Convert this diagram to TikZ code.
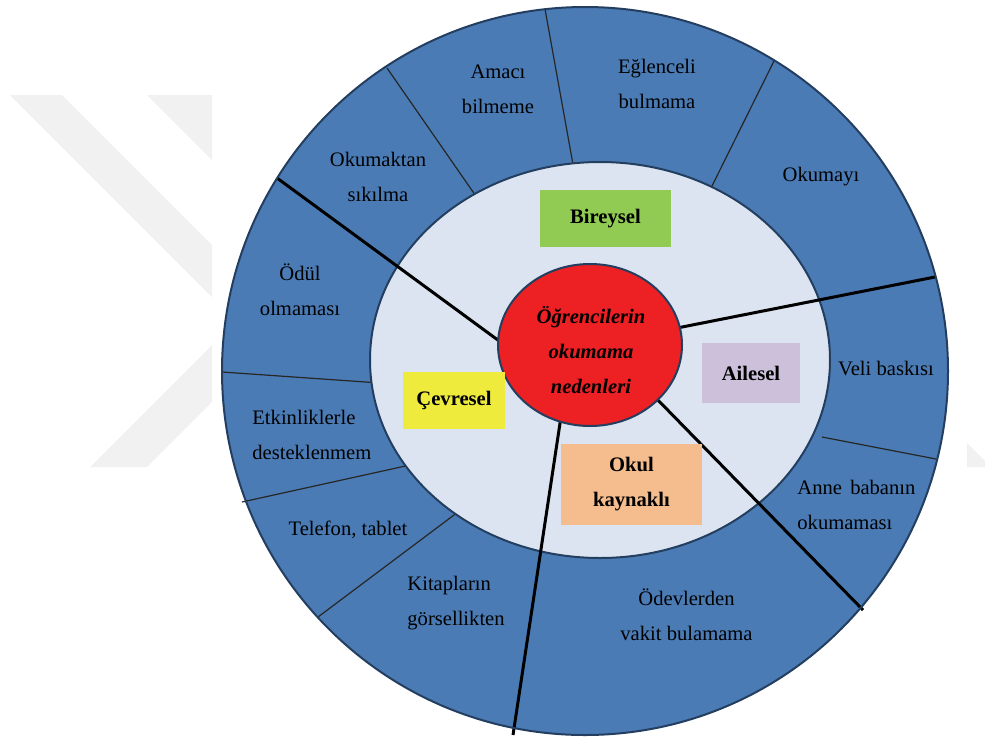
\documentclass[tikz,border=0pt]{standalone}
\usepackage{fontspec}
\setmainfont{Liberation Serif}
\usetikzlibrary{shapes.geometric}
\definecolor{ringblue}{RGB}{74,123,181}
\definecolor{ringedge}{RGB}{35,62,95}
\definecolor{innerfill}{RGB}{219,228,240}
\definecolor{corered}{RGB}{237,32,36}
\definecolor{boxgreen}{RGB}{146,203,84}
\definecolor{boxlilac}{RGB}{204,192,218}
\definecolor{boxyellow}{RGB}{238,235,60}
\definecolor{boxpeach}{RGB}{245,188,142}
\definecolor{wmgray}{RGB}{241,241,241}

\begin{document}
\begin{tikzpicture}[x=0.5pt, y=-0.5pt,
    lbl/.style={font=\fontsize{10.3}{17.5}\selectfont, align=center, inner sep=0pt},
    catbox/.style={font=\fontsize{10.3}{17.5}\selectfont\bfseries, align=center, inner sep=0pt},
    thinsep/.style={line width=0.6pt, black!85},
    thicksep/.style={line width=1.5pt, black}]
    % Canvas
    \useasboundingbox (0,0) rectangle (985,740);

    % Watermark
    \fill[wmgray] (10,95) -- (62,95) -- (212,245) -- (212,297) -- cycle;
    \fill[wmgray] (147,95) -- (212,95) -- (212,160) -- cycle;
    \fill[wmgray] (90,467) -- (147,467) -- (212,402) -- (212,345) -- cycle;
    \fill[wmgray] (967,443) -- (985,461) -- (985,467) -- (967,467) -- cycle;

    % Outer ring
    \fill[ringblue] (585,371) ellipse [x radius=363, y radius=364];

    % Thin separators
    \draw[thinsep] (387,68) -- (480,202);
    \draw[thinsep] (545,9) -- (574,170);
    \draw[thinsep] (774,61) -- (710,190);
    \draw[thinsep] (222,372) -- (380,383);
    \draw[thinsep] (242,502) -- (410,465);
    \draw[thinsep] (318,617) -- (458,512);
    \draw[thinsep] (822,437) -- (936,459);

    % Middle ring
    \filldraw[fill=innerfill, draw=ringedge, line width=1pt] (600,360) ellipse [x radius=230, y radius=198];

    % Thick separators
    \draw[thicksep] (506,346) -- (277,178);
    \draw[thicksep] (672,329) -- (935,277);
    \draw[thicksep] (653,395) -- (863,610);
    \draw[thicksep] (562,410) -- (513,735);

    % Outer border
    \draw[ringedge, line width=1pt] (585,371) ellipse [x radius=363, y radius=364];

    % Core
    \node[ellipse, fill=corered, draw=ringedge, line width=1pt, minimum width=92pt, minimum height=81pt, inner sep=0pt] (core) at (590,345) {};
    \node[lbl, font=\fontsize{10.3}{17.5}\selectfont\bfseries\itshape] (coretext) at (591,350) {Öğrencilerin\\okumama\\nedenleri};

    % Categories
    \node[catbox, fill=boxgreen, minimum width=65.5pt, minimum height=28.5pt] (bireysel) at (605.5,218.5) {Bireysel};
    \node[catbox, fill=boxlilac, minimum width=49pt, minimum height=30pt] (ailesel) at (751,373) {Ailesel};
    \node[catbox, fill=boxyellow, minimum width=51pt, minimum height=28.5pt] (cevresel) at (454,400.5) {Çevresel};
    \node[catbox, fill=boxpeach, minimum width=70.5pt, minimum height=40.5pt] (okul) at (631.5,484.5) {Okul\\kaynaklı};

    % Reasons
    \node[lbl] (amaci) at (498,89.5) {Amacı\\bilmeme};
    \node[lbl] (eglenceli) at (657,83.5) {Eğlenceli\\bulmama};
    \node[lbl] (okumaktan) at (378,176.5) {Okumaktan\\sıkılma};
    \node[lbl] (okumayi) at (821,177) {Okumayı};
    \node[lbl] (odul) at (300,290) {Ödül\\olmaması};
    \node[lbl] (veli) at (886,369) {Veli baskısı};
    \node[lbl, align=left, anchor=west] (etkinlik) at (252,434.5) {Etkinliklerle\\desteklenmem};
    \node[lbl] (telefon) at (348,530) {Telefon, tablet};
    \node[lbl, align=left, anchor=west] (kitap) at (407,603.5) {Kitapların\\görsellikten};
    \node[lbl] (odev) at (686.5,614.5) {Ödevlerden\\vakit bulamama};
    \node[lbl, align=left, anchor=west] (anne) at (797,504.5) {Anne\hspace{0.4em}babanın\\okumaması};
\end{tikzpicture}
\end{document}
